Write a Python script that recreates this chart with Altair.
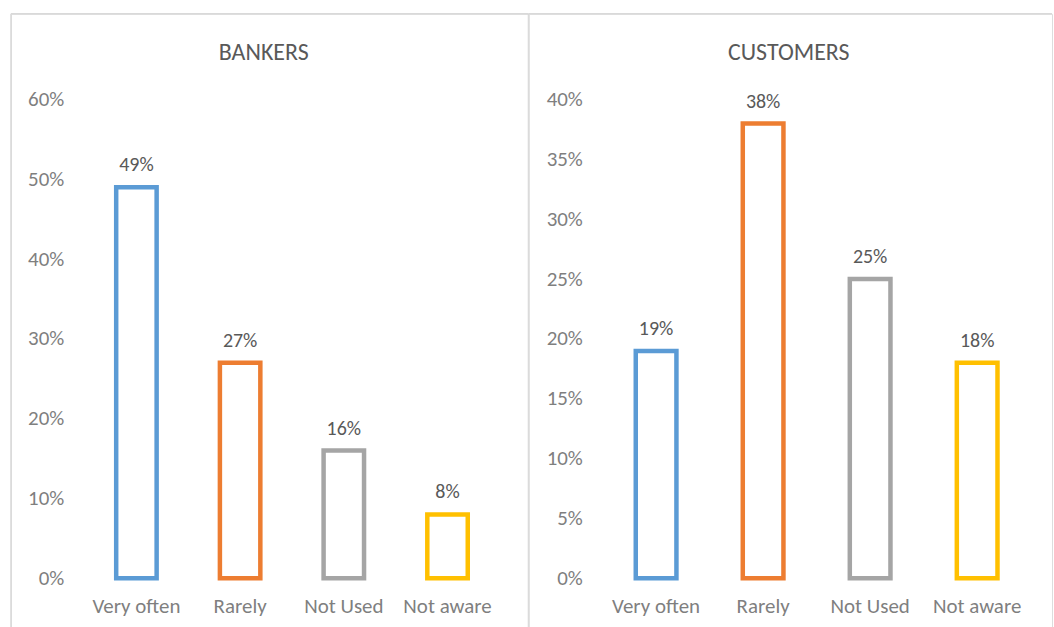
import altair as alt
import pandas as pd

categories = ["Very often", "Rarely", "Not Used", "Not aware"]
bankers = [0.49, 0.27, 0.16, 0.08]
customers = [0.19, 0.38, 0.25, 0.18]
colors = ["#5B9BD5", "#ED7D31", "#A5A5A5", "#FFC000"]
bankers_ticks = [0, 0.1, 0.2, 0.3, 0.4, 0.5, 0.6]
customers_ticks = [0, 0.05, 0.1, 0.15, 0.2, 0.25, 0.3, 0.35, 0.4]

FONT = "Calibri, Carlito, Lato, sans-serif"
H = 615
BORDER = "#D9D9D9"


def panel(values, title, ymax, ticks, width, yrange, xrange, pad_inner, label_off, title_x, left_border, right_border):
    df = pd.DataFrame({"cat": categories, "val": values})
    x = alt.X("cat:N", sort=categories,
              scale=alt.Scale(range=xrange, paddingInner=pad_inner, paddingOuter=pad_inner / 2),
              axis=alt.Axis(title=None, labelAngle=0, domain=False, ticks=False, tickSize=0,
                            labelPadding=0, offset=-15, labelBaseline="alphabetic",
                            minExtent=0, maxExtent=0,
                            labelFont=FONT, labelFontSize=21, labelColor="#7F7F7F"))
    y = alt.Y("val:Q",
              scale=alt.Scale(domain=[0, ymax], range=yrange, nice=False, zero=True),
              axis=alt.Axis(title=None, values=ticks, format=".0%", domain=False, ticks=False,
                            tickSize=0, grid=False, labelPadding=0, offset=-label_off,
                            labelAlign="right", labelBaseline="middle",
                            minExtent=0, maxExtent=0,
                            labelFont=FONT, labelFontSize=21, labelColor="#7F7F7F"))
    bars = alt.Chart(df).mark_bar(fill="#ffffff", strokeWidth=4.5).encode(
        x=x, y=y,
        stroke=alt.Stroke("cat:N", sort=categories,
                          scale=alt.Scale(domain=categories, range=colors), legend=None),
    )
    labels = alt.Chart(df).mark_text(baseline="alphabetic", dy=-16, font=FONT, fontSize=20,
                                     color="#595959").encode(
        x=alt.X("cat:N", sort=categories), y="val:Q", text=alt.Text("val:Q", format=".0%"))
    tdf = pd.DataFrame({"t": [title]})
    ttl = alt.Chart(tdf).mark_text(baseline="alphabetic", align="center", font=FONT, fontSize=24,
                                   fontWeight="normal", color="#595959").encode(
        x=alt.value(title_x), y=alt.value(46), text="t:N")
    bdf = pd.DataFrame({"a": [0]})
    layers = [bars, labels, ttl,
              alt.Chart(bdf).mark_rule(color=BORDER, strokeWidth=1.5).encode(
                  x=alt.value(0), x2=alt.value(width), y=alt.value(0))]
    if left_border:
        layers.append(alt.Chart(bdf).mark_rule(color=BORDER, strokeWidth=1.5).encode(
            x=alt.value(0), y=alt.value(0), y2=alt.value(H)))
    if right_border:
        layers.append(alt.Chart(bdf).mark_rule(color=BORDER, strokeWidth=1.5).encode(
            x=alt.value(width), y=alt.value(0), y2=alt.value(H)))
    return alt.layer(*layers).properties(width=width, height=H)


left = panel(bankers, "BANKERS", 0.6, bankers_ticks, 519, [566, 86], [73.8, 489.8], 0.61, 53,
             253.5, True, True)
right = panel(customers, "CUSTOMERS", 0.4, customers_ticks, 525, [566, 86], [74.3, 503.6], 0.62, 54,
              261, False, False)

chart = alt.hconcat(left, right, spacing=0, bounds="flush").properties(
    padding={"left": 9, "top": 11, "right": 0, "bottom": 0}
).configure_view(stroke=None).configure(background="#ffffff")

chart.save("out.html", embed_options={"renderer": "svg", "actions": False})
